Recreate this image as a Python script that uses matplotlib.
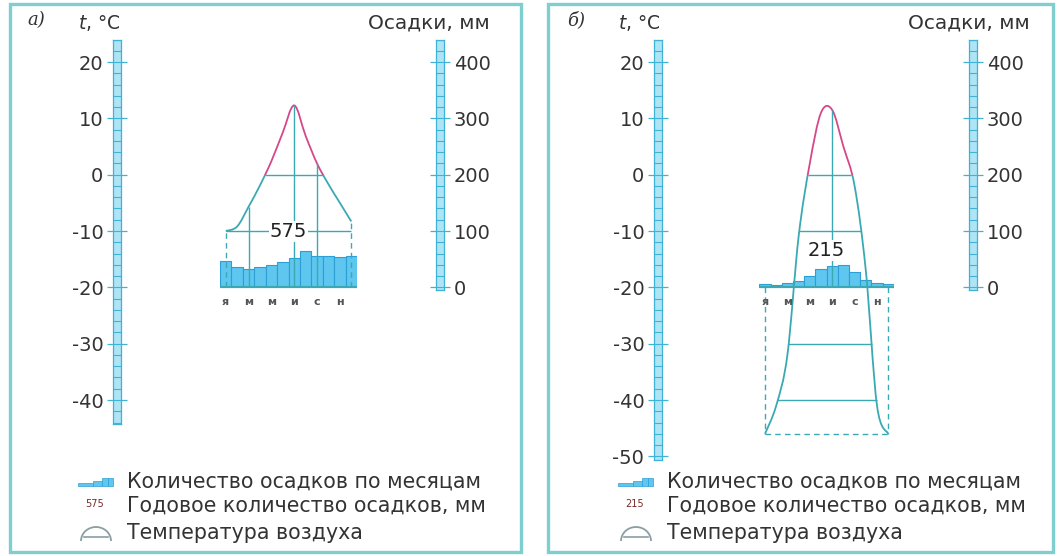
import numpy as np
import matplotlib.pyplot as plt
from matplotlib.patches import Rectangle, Arc, PathPatch
from matplotlib.path import Path
from matplotlib.ticker import MultipleLocator

plt.rcParams['font.family'] = ['DejaVu Sans']
plt.rcParams['axes.unicode_minus'] = False

# --- данные -------------------------------------------------------------
months = np.arange(12)
month_ticks = [0, 2, 4, 6, 8, 10]
month_letters = ['я', 'м', 'м', 'и', 'с', 'н']

# а)
temp_a = [-10.0, -9.2, -5.7, -1.9, 2.4, 7.5, 12.3, 6.9, 2.0, -1.7, -5.0, -8.3]
prec_a = [46, 37, 33, 37, 40, 45, 52, 64, 56, 56, 54, 55]
total_a = 575
isotherms_a = [0, -10]
drops_a = [2, 6, 8]

# б)
temp_b = [-46.0, -41.0, -32.0, -11.0, 2.0, 11.0, 11.5, 5.0, -2.0, -17.0, -41.0, -46.0]
prec_b = [6, 5, 7, 12, 20, 32, 38, 40, 28, 13, 8, 6]
total_b = 215
isotherms_b = [0, -10, -30, -40]
drops_b = [6]

legend_texts = ['Количество осадков по месяцам',
                'Годовое количество осадков, мм',
                'Температура воздуха']

# --- оформление ---------------------------------------------------------
W, H = 1057, 556
FRAME = '#80cfd0'
TEAL = '#3aa9b3'
PINK = '#d4488a'
BAR = '#5ec6ef'
BAR_EDGE = '#2c9fd4'
RULER = '#aee4f4'
RULER_EDGE = '#3fb3d6'
TXT = '#333333'

T_LO, T_HI = -52, 26


def ypx(t):
    return 174.7 - 5.633 * t


def rect(x0, x1, t0, t1):
    y0, y1 = ypx(t0), ypx(t1)
    return [x0 / W, 1 - y0 / H, (x1 - x0) / W, (y0 - y1) / H]


def smooth_path(x, y):
    # кривая Безье через точки (Catmull-Rom)
    p = np.column_stack([x, y]).astype(float)
    ext = np.vstack([p[0], p, p[-1]])
    verts = [p[0]]
    codes = [Path.MOVETO]
    for i in range(len(p) - 1):
        p0, p1, p2, p3 = ext[i], ext[i + 1], ext[i + 2], ext[i + 3]
        verts += [p1 + (p2 - p0) / 6, p2 - (p3 - p1) / 6, p2]
        codes += [Path.CURVE4] * 3
    return Path(verts, codes)


fig = plt.figure(figsize=(W / 100, H / 100), dpi=100)

ov = fig.add_axes([0, 0, 1, 1])
ov.set_xlim(0, W)
ov.set_ylim(H, 0)
ov.axis('off')


def ruler(x0, t0, t1, lim, major, minor, right_labels):
    r = fig.add_axes(rect(x0, x0 + 8, t0, t1))
    r.set_xlim(0, 1)
    r.set_ylim(lim)
    r.set_facecolor(RULER)
    for s in r.spines.values():
        s.set_color(RULER_EDGE)
        s.set_linewidth(0.9)
    r.set_xticks([])
    r.yaxis.set_major_locator(MultipleLocator(major))
    r.yaxis.set_minor_locator(MultipleLocator(minor))
    r.grid(which='both', axis='y', color=RULER_EDGE, lw=0.8)
    r.tick_params(axis='y', which='major', left=True, right=True, direction='out',
                  length=4.5, width=0.9, color=RULER_EDGE, labelsize=14,
                  labelcolor=TXT, pad=2.5,
                  labelleft=not right_labels, labelright=right_labels)
    r.tick_params(axis='y', which='minor', length=0)
    return r


def panel(lay, temps, prec, total, isotherms, drops):
    dx = lay['dx']
    t = np.asarray(temps)

    # рамка и подписи
    ov.add_patch(Rectangle((lay['frame'][0], 4), lay['frame'][1] - lay['frame'][0], 548,
                           fill=False, ec=FRAME, lw=2.4))
    ov.text(27 + dx, 20, lay['tag'], fontsize=13, family='DejaVu Serif', style='italic',
            color=TXT, ha='left', va='center')
    ov.text(121 + dx, 23, '$t$, °C', fontsize=13.5, color=TXT, ha='right', va='center')
    ov.text(490 + dx, 23, 'Осадки, мм', fontsize=14.5, color=TXT, ha='right', va='center')

    # шкалы
    ruler(lay['lr'], lay['lr_lo'], 24, (lay['lr_lo'], 24), 10, 2, False)
    ruler(lay['rr'], -20.4, 24, (-4, 440), 100, 20, True)

    # диаграмма
    ax = fig.add_axes(rect(lay['x0'], lay['x1'], T_LO, T_HI))
    ax.set_xlim(-0.5, 11.5)
    ax.set_ylim(T_LO, T_HI)
    ax.axis('off')
    axp = ax.twinx()
    axp.set_ylim((T_LO + 20) * 10, (T_HI + 20) * 10)
    axp.axis('off')
    ax.set_zorder(axp.get_zorder() + 1)
    ax.patch.set_visible(False)

    axp.bar(months, prec, width=1, color=BAR, edgecolor=BAR_EDGE, linewidth=0.8)

    k = int(np.argmax(t))
    for lev in isotherms:
        left = np.interp(lev, t[:k + 1], months[:k + 1])
        right = np.interp(lev, t[k:][::-1], months[k:][::-1])
        ax.hlines(lev, left, right, color=TEAL, lw=1)

    ax.vlines([0, 11], -20, [t[0], t[-1]], color=TEAL, lw=1, linestyles=(0, (4, 3)))
    if max(t[0], t[-1]) < -20:
        ax.hlines(min(t[0], t[-1]), 0, 11, color=TEAL, lw=1, linestyles=(0, (4, 3)))
    ax.vlines(drops, -20, [t[d] for d in drops], color=TEAL, lw=1)
    ax.hlines(-20, -0.5, 11.5, color=TEAL, lw=1.5)

    curve = smooth_path(months, t)
    hot = ax.add_patch(PathPatch(curve, fill=False, ec=PINK, lw=1.3))
    hot.set_clip_path(Rectangle((-1, 0), 14, 60, transform=ax.transData))
    cold = ax.add_patch(PathPatch(curve, fill=False, ec=TEAL, lw=1.3))
    cold.set_clip_path(Rectangle((-1, -60), 14, 60, transform=ax.transData))

    for m, s in zip(month_ticks, month_letters):
        ax.text(m, -22.6, s, ha='center', va='center', fontsize=8, fontweight='bold',
                color='#555555')
    ax.text(5.5, lay['total_y'], str(total), ha='center', va='center', fontsize=14,
            color='#222222', zorder=5,
            bbox=dict(boxstyle='square,pad=0.05', fc='white', ec='none'))

    # легенда
    for x, w, h in [(78, 15, 3), (93, 9, 5), (102, 5.5, 8), (107.5, 5.5, 8)]:
        ov.add_patch(Rectangle((x + dx, 486 - h), w, h, fc=BAR, ec=BAR_EDGE, lw=0.5))
    ov.text(95 + dx, 504, str(total), fontsize=7, color='#7a2a2a', ha='center', va='center')
    ov.add_patch(Arc((96 + dx, 541), 30, 28, theta1=180, theta2=360, color='#8a9ea4', lw=1.3))
    ov.plot([84 + dx, 108 + dx], [537, 537], color='#8a9ea4', lw=1.2)
    for y, s in zip([482, 506, 533], legend_texts):
        ov.text(127 + dx, y, s, fontsize=14.8, color=TXT, ha='left', va='center')


layout_a = dict(dx=0, tag='а)', frame=(10, 521), lr=113, lr_lo=-44.2, rr=436,
                x0=220, x1=357, total_y=-10)
layout_b = dict(dx=540, tag='б)', frame=(548, 1053), lr=654, lr_lo=-50.6, rr=969,
                x0=759.4, x1=893.8, total_y=-13.4)

panel(layout_a, temp_a, prec_a, total_a, isotherms_a, drops_a)
panel(layout_b, temp_b, prec_b, total_b, isotherms_b, drops_b)

fig.savefig('out.png', dpi=100)
